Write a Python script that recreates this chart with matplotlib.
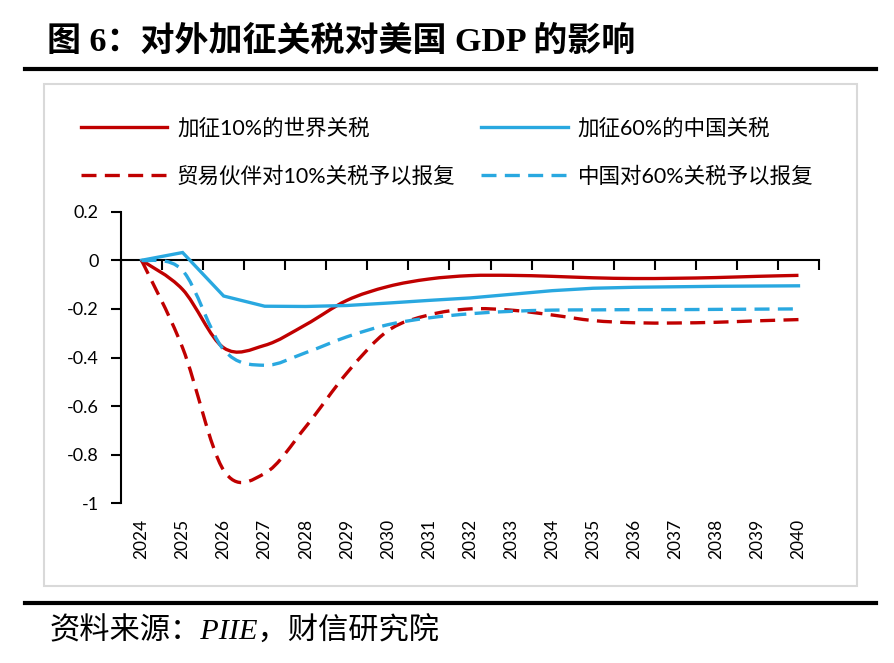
import matplotlib
matplotlib.use("Agg")
import matplotlib.pyplot as plt
from matplotlib.path import Path
from matplotlib.patches import PathPatch, Rectangle
from matplotlib.lines import Line2D
from matplotlib.font_manager import FontProperties

# data
years = ["2024", "2025", "2026", "2027", "2028", "2029", "2030", "2031", "2032",
         "2033", "2034", "2035", "2036", "2037", "2038", "2039", "2040"]
world_10 = [0, -0.12, -0.36, -0.35, -0.265, -0.165, -0.108, -0.077, -0.063,
            -0.062, -0.066, -0.072, -0.075, -0.074, -0.071, -0.066, -0.062]
china_60 = [0, 0.032, -0.147, -0.189, -0.19, -0.186, -0.176, -0.165, -0.155,
            -0.14, -0.125, -0.115, -0.111, -0.109, -0.107, -0.106, -0.105]
world_10_retal = [0, -0.36, -0.864, -0.877, -0.685, -0.464, -0.29, -0.225, -0.2,
                  -0.205, -0.225, -0.248, -0.257, -0.258, -0.255, -0.249, -0.244]
china_60_retal = [0, -0.042, -0.368, -0.432, -0.38, -0.315, -0.265, -0.237, -0.22,
                  -0.21, -0.205, -0.204, -0.203, -0.203, -0.202, -0.201, -0.2]

labels = ["加征10%的世界关税", "贸易伙伴对10%关税予以报复",
          "加征60%的中国关税", "中国对60%关税予以报复"]
yticks = [0.2, 0, -0.2, -0.4, -0.6, -0.8, -1]
ytick_labels = ["0.2", "0", "-0.2", "-0.4", "-0.6", "-0.8", "-1"]

RED = "#C00000"
BLUE = "#29A8E0"
DASH = (0, (4.5, 2.5))
LW = 2.4

CJK = ["Lato", "Noto Sans CJK SC"]


def _smooth_path(xs, ys, t=1.0 / 6.0):
    # Excel-style smoothed line: cubic bezier through the points
    n = len(xs)
    verts = [(xs[0], ys[0])]
    codes = [Path.MOVETO]
    for i in range(n - 1):
        p0 = i - 1 if i > 0 else i
        p3 = i + 2 if i + 2 < n else i + 1
        c1 = (xs[i] + (xs[i + 1] - xs[p0]) * t, ys[i] + (ys[i + 1] - ys[p0]) * t)
        c2 = (xs[i + 1] - (xs[p3] - xs[i]) * t, ys[i + 1] - (ys[p3] - ys[i]) * t)
        verts += [c1, c2, (xs[i + 1], ys[i + 1])]
        codes += [Path.CURVE4] * 3
    return Path(verts, codes)


W, H = 894, 663
fig = plt.figure(figsize=(W / 100, H / 100), dpi=100)

# title, rules, frame, source
fig.text(47 / W, 1 - 42 / H, "图 6：对外加征关税对美国 GDP 的影响",
         family=["Liberation Serif", "Noto Sans CJK SC"], weight="bold",
         size=24.5, va="center", ha="left")
fig.add_artist(Line2D([25 / W, 876 / W], [1 - 69 / H] * 2, transform=fig.transFigure,
                      color="black", lw=3))
fig.add_artist(Line2D([25 / W, 876 / W], [1 - 602.5 / H] * 2, transform=fig.transFigure,
                      color="black", lw=3))
fig.add_artist(Rectangle((44 / W, 1 - 586 / H), (857 - 44) / W, (586 - 84) / H,
                         transform=fig.transFigure, fill=False,
                         edgecolor="#D9D9D9", lw=1.5))
fig.text(50 / W, 1 - 631 / H, "资料来源：PIIE，财信研究院",
         family=["Liberation Serif", "Noto Sans CJK SC"], style="italic",
         size=21.8, va="center", ha="left")

ax = fig.add_axes([121 / W, 1 - 503.3 / H, (819 - 121) / W, (503.3 - 211.7) / H])
x = list(range(len(years)))

ax.add_patch(PathPatch(_smooth_path(x, world_10), fill=False, edgecolor=RED, lw=LW,
                       capstyle="butt", joinstyle="round", zorder=3))
ax.plot(x, china_60, color=BLUE, lw=LW, solid_joinstyle="miter", zorder=3)
ax.add_patch(PathPatch(_smooth_path(x, world_10_retal), fill=False, edgecolor=RED, lw=LW,
                       linestyle=DASH, capstyle="butt", zorder=3))
ax.add_patch(PathPatch(_smooth_path(x, china_60_retal), fill=False, edgecolor=BLUE, lw=LW,
                       linestyle=DASH, capstyle="butt", zorder=3))

ax.set_xlim(-0.5, len(years) - 0.5)
ax.set_ylim(-1, 0.2)
for s in ["top", "right", "bottom"]:
    ax.spines[s].set_visible(False)
ax.spines["left"].set_linewidth(1.5)

ax.set_yticks(yticks)
ax.set_yticklabels(ytick_labels, family="Lato", size=13)
ax.tick_params(axis="y", direction="out", length=7, width=1.5, pad=9)

ax.set_xticks(x)
ax.set_xticklabels(years, rotation=90, family="Lato", size=12.5)
ax.tick_params(axis="x", length=0, pad=11)

# category axis drawn at y = 0 with ticks between categories
zero_ax = ax.secondary_xaxis(0, transform=ax.transData)
zero_ax.set_xticks([i - 0.5 for i in range(len(years) + 1)])
zero_ax.tick_params(axis="x", direction="out", length=7, width=1.5,
                    labelbottom=False, labeltop=False)
zero_ax.spines["bottom"].set_linewidth(1.5)

handles = [
    Line2D([], [], color=RED, lw=LW),
    Line2D([], [], color=RED, lw=LW, linestyle=DASH, dash_capstyle="butt"),
    Line2D([], [], color=BLUE, lw=LW),
    Line2D([], [], color=BLUE, lw=LW, linestyle=DASH, dash_capstyle="butt"),
]
fig.legend(handles, labels, ncol=2, loc="upper left",
           bbox_to_anchor=(81 / W, 1 - 118 / H), frameon=False,
           prop=FontProperties(family=CJK, size=15.5),
           handlelength=4.0, handletextpad=0.46, columnspacing=1.2,
           labelspacing=1.3, borderpad=0, borderaxespad=0)

fig.savefig("out.png", dpi=100)
